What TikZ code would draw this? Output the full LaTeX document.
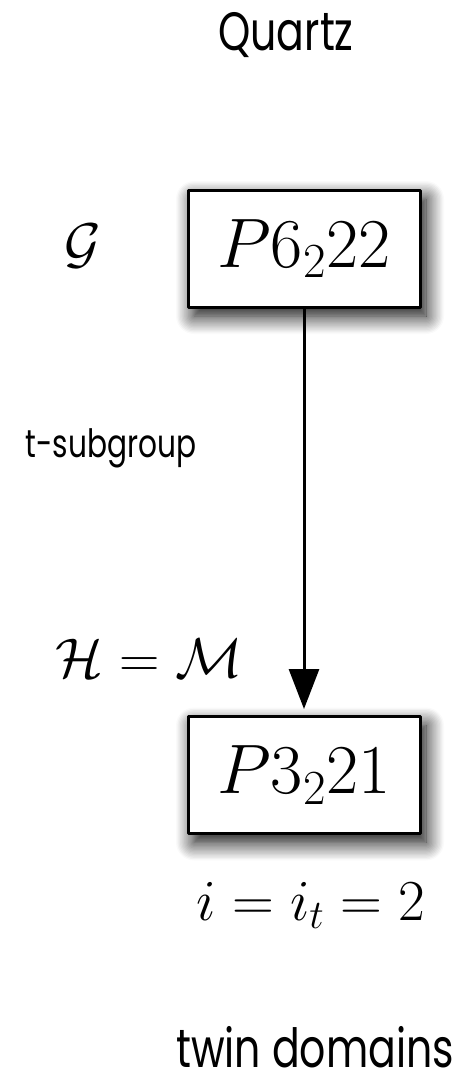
\RequirePackage{fix-cm}
\documentclass[tikz,border=0pt]{standalone}
\usepackage{fontspec}
\newfontfamily\labelfont[FakeStretch=0.76]{Poppins}
\usetikzlibrary{arrows.meta}
\usetikzlibrary{shadows.blur}

\begin{document}
\begin{tikzpicture}[x=0.5pt, y=-0.5pt, line cap=round, line join=round, >={Triangle[length=20pt, width=15pt]},
	group/.style={draw, line width=1.5pt, fill=white, minimum width=116pt, minimum height=58.5pt, inner sep=0pt, font=\fontsize{35}{40}\selectfont, blur shadow={shadow xshift=3pt, shadow yshift=-4.5pt, shadow blur radius=9pt, shadow blur steps=14, shadow opacity=100}},
	mathlabel/.style={font=\fontsize{28}{32}\selectfont},
	title/.style={font=\labelfont\fontsize{27}{32}\selectfont},
	note/.style={font=\labelfont\fontsize{19.5}{24}\selectfont}]
	\useasboundingbox (0,0) rectangle (463,1084);
	% titles
	\node[title, anchor=base] (quartz) at (286,50) {Quartz};
	\node[title, anchor=base] (twins) at (315,1067) {twin domains};
	% groups
	\node[group] (g) at (304,248.5) {$P6_222$};
	\node[group] (h) at (304,775) {$P3_221$};
	% arrow
	\draw[->, line width=1.5pt, shorten >=3pt] (g) -- (h);
	% symbols
	\node[mathlabel] (glabel) at (83,246) {$\mathcal{G}$};
	\node[mathlabel, anchor=base] (hlabel) at (149,677) {$\mathcal{H}=\mathcal{M}$};
	\node[mathlabel, anchor=base, font=\fontsize{29}{33}\selectfont] (index) at (311,920) {$i=i_t=2$};
	\node[note, anchor=base] (tsub) at (111,457) {t-subgroup};
\end{tikzpicture}
\end{document}
